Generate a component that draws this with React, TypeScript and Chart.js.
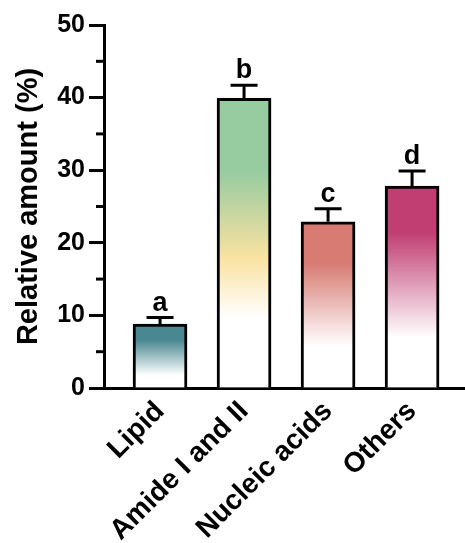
import React, { useEffect, useRef } from "react";
import { Chart, registerables } from "chart.js";

Chart.register(...registerables);

// ---------------- data ----------------
const categories = ["Lipid", "Amide I and II", "Nucleic acids", "Others"];
const means = [8.8, 39.9, 22.9, 27.8];
const errors = [0.9, 1.8, 1.8, 2.1];
const letters = ["a", "b", "c", "d"];
const yTickValues = [0, 10, 20, 30, 40, 50];
const yMinorTickValues = [5, 15, 25, 35, 45];
const yTitle = "Relative amount (%)";

// ---------------- styles ----------------
const FONT = "'Liberation Sans', Arial, Helvetica, sans-serif";
// gradient stops per bar: [fraction from bar bottom, colour]
const gradientStops: [number, string][][] = [
  [[0, "#ffffff"], [0.2, "#ffffff"], [0.75, "#4a8891"], [1, "#4a8891"]],
  [[0, "#ffffff"], [0.24, "#ffffff"], [0.45, "#f9e2a1"], [0.75, "#97cba0"], [1, "#97cba0"]],
  [[0, "#ffffff"], [0.25, "#ffffff"], [0.75, "#d77b73"], [1, "#d77b73"]],
  [[0, "#ffffff"], [0.25, "#ffffff"], [0.77, "#c13e72"], [1, "#c13e72"]],
];

const annotationPlugin = {
  id: "errorBarsAndLetters",
  afterDatasetsDraw(chart: any) {
    const ctx = chart.ctx;
    const y = chart.scales.y;
    const meta = chart.getDatasetMeta(0);
    ctx.save();
    ctx.strokeStyle = "#000";
    ctx.fillStyle = "#000";
    ctx.lineWidth = 3;
    ctx.lineCap = "butt";
    meta.data.forEach((bar: any, i: number) => {
      const x = bar.x;
      const yTop = y.getPixelForValue(means[i]);
      const yErr = y.getPixelForValue(means[i] + errors[i]);
      ctx.beginPath();
      ctx.moveTo(x, yTop);
      ctx.lineTo(x, yErr);
      ctx.moveTo(x - 13.5, yErr);
      ctx.lineTo(x + 13.5, yErr);
      ctx.stroke();
      ctx.font = `bold 27px ${FONT}`;
      ctx.textAlign = "center";
      ctx.textBaseline = "alphabetic";
      ctx.fillText(letters[i], x, yErr - 7);
    });
    ctx.restore();
  },
  afterDraw(chart: any) {
    const ctx = chart.ctx;
    const y = chart.scales.y;
    const left = chart.chartArea.left;
    ctx.save();
    ctx.strokeStyle = "#000";
    ctx.lineWidth = 3;
    yMinorTickValues.forEach((v) => {
      const py = y.getPixelForValue(v);
      ctx.beginPath();
      ctx.moveTo(left - 8, py);
      ctx.lineTo(left, py);
      ctx.stroke();
    });
    ctx.restore();
  },
};

export default function App() {
  const canvasRef = useRef<HTMLCanvasElement | null>(null);

  useEffect(() => {
    if (!canvasRef.current) return;
    const chart = new Chart(canvasRef.current, {
      type: "bar",
      data: {
        datasets: [
          {
            data: means.map((m, i) => ({ x: i, y: m })),
            barThickness: 54,
            borderWidth: 3,
            borderColor: "#000",
            borderSkipped: "bottom",
            backgroundColor: (c: any) => {
              const ch = c.chart;
              if (!ch.chartArea || c.dataIndex === undefined) return "#fff";
              const ys = ch.scales.y;
              const i = c.dataIndex;
              const y0 = ys.getPixelForValue(0);
              const y1 = ys.getPixelForValue(means[i]);
              const g = ch.ctx.createLinearGradient(0, y0, 0, y1);
              gradientStops[i].forEach(([f, col]) => g.addColorStop(f, col));
              return g;
            },
          },
        ],
      },
      options: {
        animation: false,
        responsive: true,
        maintainAspectRatio: false,
        layout: { padding: { top: 25, right: 0, left: 0, bottom: 0 } },
        plugins: { legend: { display: false }, tooltip: { enabled: false } },
        scales: {
          x: {
            type: "linear",
            offset: false,
            min: -0.667,
            max: 3.63,
            afterBuildTicks: (s: any) => {
              s.ticks = categories.map((_, i) => ({ value: i }));
            },
            afterFit: (s: any) => {
              s.height = 155;
            },
            ticks: {
              autoSkip: false,
              minRotation: 45,
              maxRotation: 45,
              padding: 7,
              color: "#000",
              font: { family: FONT, size: 28, weight: "bold" },
              callback: (v: any) => categories[v as number] ?? "",
            },
            grid: { display: false, drawTicks: false, offset: false },
            border: { display: true, color: "#000", width: 3 },
          },
          y: {
            min: 0,
            max: 50,
            afterBuildTicks: (s: any) => {
              s.ticks = yTickValues.map((v) => ({ value: v }));
            },
            afterFit: (s: any) => {
              s.width = 104;
            },
            ticks: {
              padding: 4,
              color: "#000",
              font: { family: FONT, size: 25, weight: "bold" },
            },
            grid: {
              display: true,
              drawOnChartArea: false,
              drawTicks: true,
              tickLength: 15,
              tickWidth: 3,
              tickColor: "#000",
            },
            border: { display: true, color: "#000", width: 3 },
            title: {
              display: true,
              text: yTitle,
              color: "#000",
              font: { family: FONT, size: 29, weight: "bold" },
              padding: { top: 12, bottom: 0 },
            },
          },
        },
      },
      plugins: [annotationPlugin],
    } as any);
    return () => chart.destroy();
  }, []);

  return (
    <div style={{ position: "absolute", left: 0, top: 0, width: 465, height: 543, background: "#fff" }}>
      <canvas ref={canvasRef} />
    </div>
  );
}
